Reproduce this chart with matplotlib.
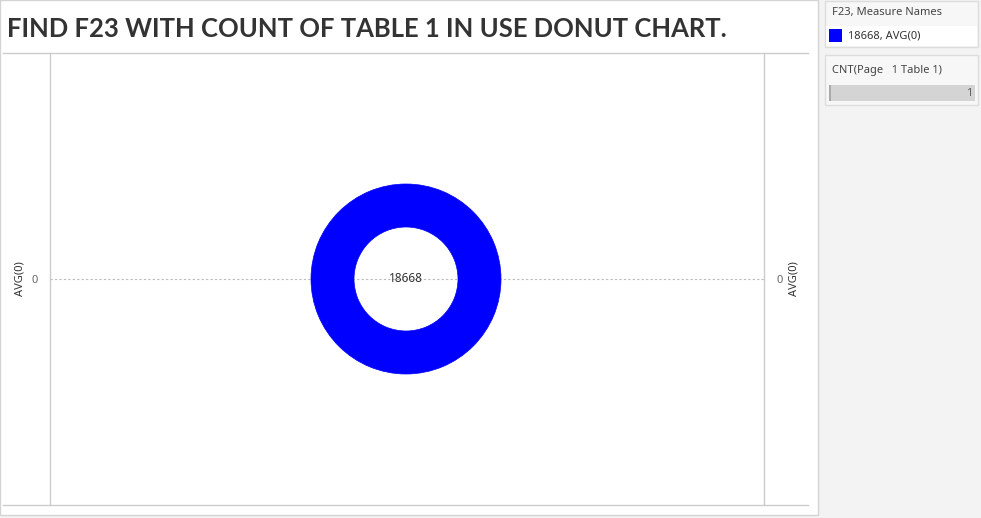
import matplotlib
matplotlib.use("Agg")
import matplotlib.pyplot as plt
from matplotlib.patches import Rectangle

# data
title = "FIND F23 WITH COUNT OF TABLE 1 IN USE DONUT CHART."
slice_values = [18668]
slice_labels = ["18668"]
legend_title = "F23, Measure Names"
legend_items = ["18668, AVG(0)"]
axis_label = "AVG(0)"
y_ticks = [0]
count_title = "CNT(Page   1 Table 1)"
count_value = 1

W, H = 981, 518
BLUE = "#0000ff"
UI_FONT = ["Noto Sans", "DejaVu Sans"]


def fx(x):
    return x / W


def fy(y):
    return 1 - y / H


fig = plt.figure(figsize=(W / 100, H / 100), dpi=100, facecolor="#f3f3f3")

# white dashboard area
fig.patches.append(Rectangle((0, fy(515)), fx(818), 515 / H, transform=fig.transFigure,
                             facecolor="white", edgecolor="#d4d4d4", lw=1, zorder=-10))

t = fig.text(fx(7), fy(29), title, fontsize=20, fontweight="bold", color="#333333",
             family=["Lato", "DejaVu Sans"], va="center", ha="left")
# fit title width to ~720 px
fig.canvas.draw()
w = t.get_window_extent().width
t.set_fontsize(20 * 720 / w)

# frame lines
fig.add_artist(plt.Line2D([fx(3), fx(808)], [fy(53), fy(53)], color="#cccccc", lw=1))
fig.add_artist(plt.Line2D([fx(3), fx(808)], [fy(505), fy(505)], color="#cccccc", lw=1))

# main plot axes
ax = fig.add_axes([fx(50), fy(505), fx(764) - fx(50), fy(53) - fy(505)])
ax.set_facecolor("none")
ax.set_xlim(0, 1)
ax.set_ylim(-1, 1)
ax.set_xticks([])
ax.set_yticks(y_ticks)
ax.tick_params(axis="y", length=0, labelsize=8, labelcolor="#666666", pad=9,
               left=True, right=True, labelleft=True, labelright=True)
for lab in ax.get_yticklabels():
    lab.set_family(UI_FONT)
for s in ["top", "bottom"]:
    ax.spines[s].set_visible(False)
for s in ["left", "right"]:
    ax.spines[s].set_color("#cccccc")
    ax.spines[s].set_linewidth(1)
ax.axhline(0, color="#bbbbbb", lw=0.8, ls=(0, (2, 2)))
for xpos in (20, 794):
    fig.text(fx(xpos), fy(279), axis_label, rotation=90, fontsize=8, color="#333333",
             ha="center", va="center", family=UI_FONT)

# donut
r_px = 95
pax = fig.add_axes([fx(406 - r_px), fy(279 + r_px), 2 * r_px / W, 2 * r_px / H])
pax.pie(slice_values, colors=[BLUE], radius=1, startangle=90,
        wedgeprops=dict(width=1 - 52 / 95, edgecolor=BLUE, lw=0.5))
pax.set_xlim(-1, 1)
pax.set_ylim(-1, 1)
pax.text(0, 0, slice_labels[0], ha="center", va="center", fontsize=8.5, color="#333333",
         family=UI_FONT)

# legend panel
fig.patches.append(Rectangle((fx(825), fy(47)), fx(978) - fx(825), 46 / H, transform=fig.transFigure,
                             facecolor="#f7f7f7", edgecolor="#dddddd", lw=1, zorder=-5))
fig.patches.append(Rectangle((fx(826), fy(46)), fx(977) - fx(826), 20 / H, transform=fig.transFigure,
                             facecolor="white", edgecolor="none", zorder=-4))
fig.text(fx(832), fy(12), legend_title, fontsize=8, color="#444444", va="center", family=UI_FONT)
fig.patches.append(Rectangle((fx(829), fy(42)), 13 / W, 13 / H, transform=fig.transFigure,
                             facecolor=BLUE, edgecolor="none", zorder=-3))
fig.text(fx(848), fy(36), legend_items[0], fontsize=8, color="#333333", va="center", family=UI_FONT)

# count panel
fig.patches.append(Rectangle((fx(825), fy(105)), fx(978) - fx(825), 50 / H, transform=fig.transFigure,
                             facecolor="#f7f7f7", edgecolor="#dddddd", lw=1, zorder=-5))
fig.text(fx(832), fy(70), count_title, fontsize=8, color="#444444", va="center", family=UI_FONT)
fig.patches.append(Rectangle((fx(829), fy(101)), fx(975) - fx(829), 16 / H, transform=fig.transFigure,
                             facecolor="#d4d4d4", edgecolor="none", zorder=-4))
fig.patches.append(Rectangle((fx(829), fy(101)), 2 / W, 16 / H, transform=fig.transFigure,
                             facecolor="#aaaaaa", edgecolor="none", zorder=-3))
fig.text(fx(972), fy(93), str(count_value), fontsize=8, color="#555555", va="center", ha="right",
         family=UI_FONT)

fig.savefig("out.png", dpi=100, facecolor=fig.get_facecolor())
